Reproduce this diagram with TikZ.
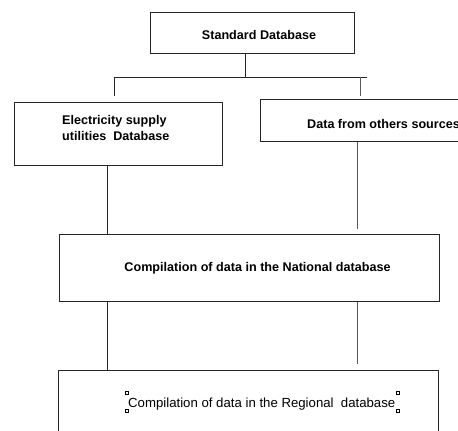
\documentclass[tikz,border=0pt]{standalone}
\usepackage{fontspec}
\setmainfont{Liberation Sans}
\begin{document}
\begin{tikzpicture}[x=1pt,y=-1pt,
  box/.style={draw=black!85, line width=0.9pt, minimum width=#1, inner sep=0pt, anchor=north west},
  lbl/.style={font=\fontsize{12.6}{16}\selectfont\bfseries, inner sep=0pt},
  conn/.style={line width=0.9pt, draw=black!85},
  conng/.style={line width=0.9pt, draw=black!65},
  handle/.style={draw=black, line width=0.5pt, fill=white}]
\useasboundingbox (0,0) rectangle (458,431);
\clip (0,0) rectangle (458,431);
% boxes
\node[box=204pt, minimum height=41pt] (std) at (150,12) {};
\node[box=208pt, minimum height=63pt] (elec) at (14,102) {};
\node[box=220pt, minimum height=42pt] (oth) at (260,99) {};
\node[box=380pt, minimum height=67pt] (nat) at (59,234) {};
\node[box=380pt, minimum height=80pt] (reg) at (58,370) {};
% texts
\node[lbl] (stdt) at (259,35) {Standard Database};
\node[lbl, align=left, anchor=west] (elect) at (62,128) {Electricity supply\\utilities \ Database};
\node[lbl, anchor=west] (otht) at (307,124) {Data from others sources};
\node[lbl] (natt) at (257.5,268) {Compilation of data in the National database};
\node[font=\fontsize{13.2}{15}\selectfont, inner sep=0pt, anchor=west] (regt) at (128,404) {Compilation of data in the Regional \ database};
% handles
\foreach \hx/\hy [count=\i] in {127/393,127/411,398/393,398/411}
  \node[handle, minimum size=3pt, inner sep=0pt] (h\i) at (\hx,\hy) {};
% connectors
\coordinate (j) at (245,77);
\coordinate (jl) at (114,77);
\coordinate (jr) at (367,77);
\coordinate (dl) at (114,96);
\coordinate (dr1) at (360,77);
\coordinate (dr) at (360,96);
\draw[conn] (std.south -| j) -- (j);
\draw[conn] (jl) -- (jr);
\draw[conn] (jl) -- (dl);
\draw[conng] (dr1) -- (dr);
\coordinate (rt) at (357,229);
\coordinate (rb) at (357,364);
\draw[conn] (elec.south -| 107,0) -- (nat.north -| 107,0);
\draw[conng] (oth.south -| rt) -- (rt);
\draw[conn] (nat.south -| 107,0) -- (reg.north -| 107,0);
\draw[conng] (nat.south -| rb) -- (rb);
\end{tikzpicture}
\end{document}
